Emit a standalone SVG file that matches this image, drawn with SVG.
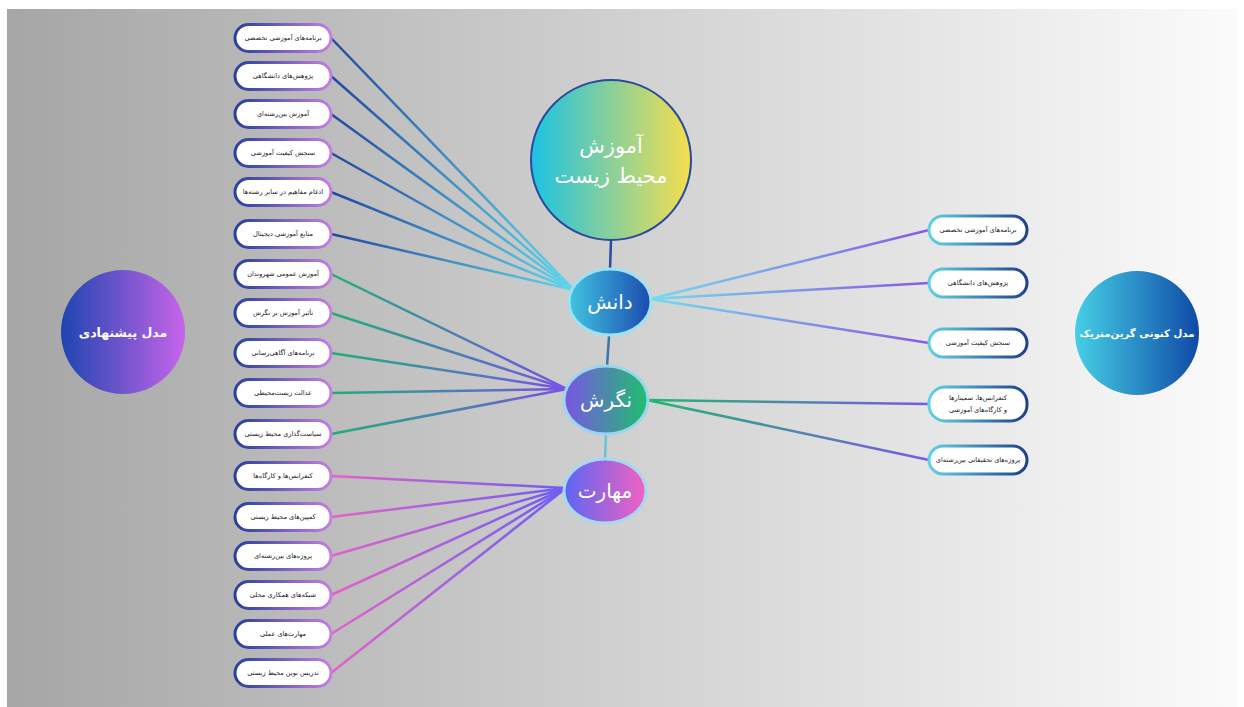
<svg xmlns="http://www.w3.org/2000/svg" width="1244" height="707" viewBox="0 0 1244 707">
<defs>
<style>
.pl rect{fill:#fff;stroke:url(#gPillL);stroke-width:3}
.pr rect{fill:#fff;stroke:url(#gPillR);stroke-width:3}
.pt{font-family:"DejaVu Sans",sans-serif;font-size:6.6px;fill:#1a1a1a;text-anchor:middle;dominant-baseline:central;direction:rtl}
.ct{font-family:"DejaVu Sans",sans-serif;fill:#fff;text-anchor:middle;dominant-baseline:central;direction:rtl}
.bt{font-family:"DejaVu Sans",sans-serif;fill:#fff;font-weight:bold;text-anchor:middle;dominant-baseline:central;direction:rtl}
#connectors line{stroke-width:2.5;fill:none}
</style>
<linearGradient id="gBg" x1="0" y1="0" x2="1" y2="0"><stop offset="0" stop-color="#a6a6a6"/><stop offset="1" stop-color="#fbfbfb"/></linearGradient>
<linearGradient id="gPillL" x1="0" y1="0" x2="1" y2="0"><stop offset="0" stop-color="#27419b"/><stop offset="1" stop-color="#c77de2"/></linearGradient>
<linearGradient id="gPillR" x1="0" y1="0" x2="1" y2="0"><stop offset="0" stop-color="#62d3e3"/><stop offset="1" stop-color="#1f3f90"/></linearGradient>
<linearGradient id="gL1" gradientUnits="userSpaceOnUse" x1="330" y1="0" x2="575" y2="0"><stop offset="0" stop-color="#22479e"/><stop offset="1" stop-color="#62d8ec"/></linearGradient>
<linearGradient id="gL2" gradientUnits="userSpaceOnUse" x1="330" y1="0" x2="568" y2="0"><stop offset="0" stop-color="#1fae7a"/><stop offset="1" stop-color="#7a52e6"/></linearGradient>
<linearGradient id="gL3" gradientUnits="userSpaceOnUse" x1="330" y1="0" x2="568" y2="0"><stop offset="0" stop-color="#e462c8"/><stop offset="1" stop-color="#6a5ef2"/></linearGradient>
<linearGradient id="gR1" gradientUnits="userSpaceOnUse" x1="650" y1="0" x2="930" y2="0"><stop offset="0" stop-color="#72dcee"/><stop offset="1" stop-color="#8a58e2"/></linearGradient>
<linearGradient id="gR2" gradientUnits="userSpaceOnUse" x1="648" y1="0" x2="930" y2="0"><stop offset="0" stop-color="#1fb872"/><stop offset="1" stop-color="#7c58e2"/></linearGradient>
<linearGradient id="gTop" x1="0" y1="0" x2="1" y2="0"><stop offset="0" stop-color="#1cc2e4"/><stop offset="1" stop-color="#f7de4e"/></linearGradient>
<linearGradient id="gDanesh" x1="0" y1="0" x2="1" y2="0"><stop offset="0" stop-color="#40c4e2"/><stop offset="1" stop-color="#1c4bb0"/></linearGradient>
<linearGradient id="gNegaresh" x1="0" y1="0" x2="1" y2="0"><stop offset="0" stop-color="#7a54e6"/><stop offset="1" stop-color="#1ec06c"/></linearGradient>
<linearGradient id="gMaharat" x1="0" y1="0" x2="1" y2="0"><stop offset="0" stop-color="#5a66f2"/><stop offset="1" stop-color="#f462c2"/></linearGradient>
<linearGradient id="gLeft" x1="0" y1="0" x2="1" y2="0"><stop offset="0" stop-color="#1d45b0"/><stop offset="1" stop-color="#c864ea"/></linearGradient>
<linearGradient id="gRight" x1="0" y1="0" x2="1" y2="0"><stop offset="0" stop-color="#46cfe6"/><stop offset="1" stop-color="#0f4aa6"/></linearGradient>
</defs>
<rect x="7" y="9" width="1230" height="698" fill="url(#gBg)"/>

<g id="connectors">
<g stroke="url(#gL1)">
<line x1="331" y1="38" x2="574" y2="290"/>
<line x1="331" y1="76" x2="574" y2="290"/>
<line x1="331" y1="114" x2="574" y2="290"/>
<line x1="331" y1="153" x2="574" y2="290"/>
<line x1="331" y1="192" x2="574" y2="290"/>
<line x1="331" y1="234" x2="574" y2="290"/>
</g>
<g stroke="url(#gL2)">
<line x1="331" y1="274" x2="567" y2="389"/>
<line x1="331" y1="313" x2="567" y2="389"/>
<line x1="331" y1="353" x2="567" y2="389"/>
<line x1="331" y1="393" x2="567" y2="389"/>
<line x1="331" y1="434" x2="567" y2="389"/>
</g>
<g stroke="url(#gL3)">
<line x1="331" y1="476" x2="566" y2="488"/>
<line x1="331" y1="517" x2="566" y2="488"/>
<line x1="331" y1="556" x2="566" y2="488"/>
<line x1="331" y1="595" x2="566" y2="488"/>
<line x1="331" y1="634" x2="566" y2="488"/>
<line x1="331" y1="673" x2="566" y2="488"/>
</g>
<g stroke="url(#gR1)">
<line x1="650" y1="299" x2="929" y2="230"/>
<line x1="650" y1="299" x2="929" y2="283"/>
<line x1="650" y1="299" x2="929" y2="343"/>
</g>
<g stroke="url(#gR2)">
<line x1="647" y1="400" x2="929" y2="404"/>
<line x1="647" y1="400" x2="929" y2="460"/>
</g>
<line x1="611" y1="240" x2="610" y2="270" stroke="#2a4a9a" stroke-width="3"/>
<line x1="609" y1="336" x2="607" y2="367" stroke="#3d74a6" stroke-width="3"/>
<line x1="606" y1="434" x2="605" y2="459" stroke="#66c4da" stroke-width="3"/>
</g>

<g id="node-left-model"><circle cx="123" cy="332" r="62" fill="url(#gLeft)"/><text class="bt" x="123" y="332" font-size="12.5">مدل پیشنهادی</text></g>
<g id="node-right-model"><circle cx="1137" cy="333" r="62" fill="url(#gRight)"/><text class="bt" x="1137" y="333" font-size="10.2">مدل کنونی گرین‌متریک</text></g>

<g id="node-env"><circle cx="611" cy="160" r="80" fill="url(#gTop)" stroke="#2a4a9a" stroke-width="2"/><text class="ct" x="611" y="146" font-size="21">آموزش</text><text class="ct" x="611" y="176" font-size="21">محیط زیست</text></g>
<g id="node-danesh"><ellipse cx="610" cy="302" rx="41" ry="33" fill="url(#gDanesh)" stroke="#9ee2f2" stroke-width="3"/><text class="ct" x="610" y="302" font-size="20">دانش</text></g>
<g id="node-negaresh"><ellipse cx="606" cy="400" rx="42" ry="34" fill="url(#gNegaresh)" stroke="#9ad6ee" stroke-width="3"/><text class="ct" x="606" y="400" font-size="20">نگرش</text></g>
<g id="node-maharat"><ellipse cx="605" cy="491" rx="41" ry="32" fill="url(#gMaharat)" stroke="#a8d8f0" stroke-width="3"/><text class="ct" x="605" y="491" font-size="20">مهارت</text></g>

<g id="l1" class="pl"><rect x="235" y="24.5" width="96" height="27" rx="13.5"/><text class="pt" x="283" y="38">برنامه‌های آموزشی تخصصی</text></g>
<g id="l2" class="pl"><rect x="235" y="62.5" width="96" height="27" rx="13.5"/><text class="pt" x="283" y="76">پژوهش‌های دانشگاهی</text></g>
<g id="l3" class="pl"><rect x="235" y="100.5" width="96" height="27" rx="13.5"/><text class="pt" x="283" y="114">آموزش بین‌رشته‌ای</text></g>
<g id="l4" class="pl"><rect x="235" y="139.5" width="96" height="27" rx="13.5"/><text class="pt" x="283" y="153">سنجش کیفیت آموزشی</text></g>
<g id="l5" class="pl"><rect x="235" y="178.5" width="96" height="27" rx="13.5"/><text class="pt" x="283" y="192">ادغام مفاهیم در سایر رشته‌ها</text></g>
<g id="l6" class="pl"><rect x="235" y="220.5" width="96" height="27" rx="13.5"/><text class="pt" x="283" y="234">منابع آموزشی دیجیتال</text></g>
<g id="l7" class="pl"><rect x="235" y="260.5" width="96" height="27" rx="13.5"/><text class="pt" x="283" y="274">آموزش عمومی شهروندان</text></g>
<g id="l8" class="pl"><rect x="235" y="299.5" width="96" height="27" rx="13.5"/><text class="pt" x="283" y="313">تأثیر آموزش بر نگرش</text></g>
<g id="l9" class="pl"><rect x="235" y="339.5" width="96" height="27" rx="13.5"/><text class="pt" x="283" y="353">برنامه‌های آگاهی‌رسانی</text></g>
<g id="l10" class="pl"><rect x="235" y="379.5" width="96" height="27" rx="13.5"/><text class="pt" x="283" y="393">عدالت زیست‌محیطی</text></g>
<g id="l11" class="pl"><rect x="235" y="420.5" width="96" height="27" rx="13.5"/><text class="pt" x="283" y="434">سیاست‌گذاری محیط زیستی</text></g>
<g id="l12" class="pl"><rect x="235" y="462.5" width="96" height="27" rx="13.5"/><text class="pt" x="283" y="476">کنفرانس‌ها و کارگاه‌ها</text></g>
<g id="l13" class="pl"><rect x="235" y="503.5" width="96" height="27" rx="13.5"/><text class="pt" x="283" y="517">کمپین‌های محیط زیستی</text></g>
<g id="l14" class="pl"><rect x="235" y="542.5" width="96" height="27" rx="13.5"/><text class="pt" x="283" y="556">پروژه‌های بین‌رشته‌ای</text></g>
<g id="l15" class="pl"><rect x="235" y="581.5" width="96" height="27" rx="13.5"/><text class="pt" x="283" y="595">شبکه‌های همکاری محلی</text></g>
<g id="l16" class="pl"><rect x="235" y="620.5" width="96" height="27" rx="13.5"/><text class="pt" x="283" y="634">مهارت‌های عملی</text></g>
<g id="l17" class="pl"><rect x="235" y="659.5" width="96" height="27" rx="13.5"/><text class="pt" x="283" y="673">تدریس نوین محیط زیستی</text></g>

<g id="r1" class="pr"><rect x="929" y="216" width="98" height="28" rx="14"/><text class="pt" x="978" y="230">برنامه‌های آموزشی تخصصی</text></g>
<g id="r2" class="pr"><rect x="929" y="269" width="98" height="28" rx="14"/><text class="pt" x="978" y="283">پژوهش‌های دانشگاهی</text></g>
<g id="r3" class="pr"><rect x="929" y="329" width="98" height="28" rx="14"/><text class="pt" x="978" y="343">سنجش کیفیت آموزشی</text></g>
<g id="r4" class="pr"><rect x="929" y="387" width="98" height="34" rx="16"/><text class="pt" x="978" y="398">کنفرانس‌ها، سمینارها</text><text class="pt" x="978" y="410">و کارگاه‌های آموزشی</text></g>
<g id="r5" class="pr"><rect x="929" y="446" width="98" height="28" rx="14"/><text class="pt" x="978" y="460">پروژه‌های تحقیقاتی بین‌رشته‌ای</text></g>
</svg>
